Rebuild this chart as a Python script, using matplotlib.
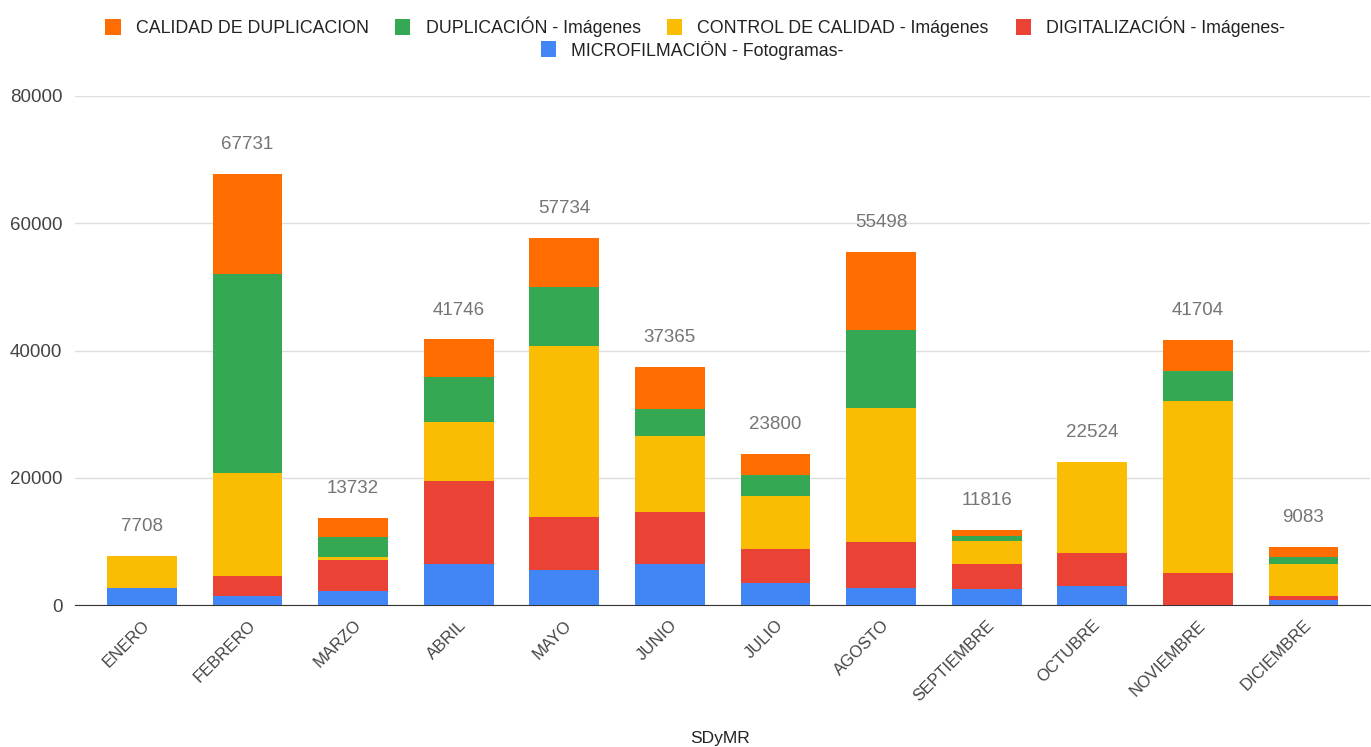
import numpy as np
import matplotlib.pyplot as plt

plt.rcParams['font.family'] = ['Liberation Sans', 'DejaVu Sans']

meses = ['ENERO', 'FEBRERO', 'MARZO', 'ABRIL', 'MAYO', 'JUNIO', 'JULIO',
         'AGOSTO', 'SEPTIEMBRE', 'OCTUBRE', 'NOVIEMBRE', 'DICIEMBRE']

microfilmacion = [2600, 1460, 2200, 6390, 5500, 6390, 3400, 2730, 2460, 2990, 0, 730]
digitalizacion = [0, 3100, 4820, 13150, 8390, 8180, 5350, 7130, 3930, 5240, 4970, 680]
control_calidad = [5108, 16140, 580, 9220, 26870, 12050, 8430, 21160, 3720, 14294, 27050, 4980]
duplicacion = [0, 31270, 3040, 7070, 9290, 4190, 3300, 12260, 740, 0, 4710, 1210]
calidad_dup = [0, 15761, 3092, 5916, 7684, 6555, 3320, 12218, 966, 0, 4974, 1483]

totales = [7708, 67731, 13732, 41746, 57734, 37365, 23800, 55498, 11816, 22524, 41704, 9083]

series = [
    ('MICROFILMACIÖN - Fotogramas-', microfilmacion, '#4285F4'),
    ('DIGITALIZACIÓN - Imágenes-', digitalizacion, '#EA4335'),
    ('CONTROL DE CALIDAD - Imágenes', control_calidad, '#FBBC04'),
    ('DUPLICACIÓN - Imágenes', duplicacion, '#34A853'),
    ('CALIDAD DE DUPLICACION', calidad_dup, '#FF6D01'),
]

fig = plt.figure(figsize=(13.71, 7.47), dpi=100)
ax = fig.add_axes([75 / 1371, 1 - 605 / 747, 1295 / 1371, 509 / 747])

x = np.arange(len(meses))
bottom = np.zeros(len(meses))
handles = {}
for nombre, vals, color in series:
    b = ax.bar(x, vals, 0.66, bottom=bottom, color=color, label=nombre, zorder=3)
    handles[nombre] = b
    bottom += np.array(vals)

# totales encima de cada barra
for xi, t in zip(x, totales):
    ax.annotate(str(t), (xi, t), xytext=(0, 15), textcoords='offset points',
                ha='center', va='bottom', fontsize=13.5, color='#757575')

ax.set_xlim(-0.634, 11.63)
ax.set_ylim(0, 80000)
ax.set_yticks([0, 20000, 40000, 60000, 80000])
ax.set_yticklabels(['0', '20000', '40000', '60000', '80000'])
ax.grid(axis='y', color='#dddddd', linewidth=1, zorder=0)
ax.set_xticks(x)
ax.set_xticklabels(meses, rotation=45, ha='right', rotation_mode='anchor')
ax.tick_params(axis='x', length=0, pad=9, labelsize=12, labelcolor='#444444')
ax.tick_params(axis='y', length=0, pad=9, labelsize=13.5, labelcolor='#444444')
for s in ['top', 'right', 'left']:
    ax.spines[s].set_visible(False)
ax.spines['bottom'].set_color('#333333')
fig.text(720 / 1371, 1 - 738 / 747, 'SDyMR', ha='center', va='center',
         fontsize=12.5, color='#222222')

fila1 = ['CALIDAD DE DUPLICACION', 'DUPLICACIÓN - Imágenes',
         'CONTROL DE CALIDAD - Imágenes', 'DIGITALIZACIÓN - Imágenes-']
fila2 = ['MICROFILMACIÖN - Fotogramas-']
kw = dict(loc='center', frameon=False, fontsize=12.8, handlelength=0.85,
          handleheight=1.0, handletextpad=0.85, columnspacing=1.5, borderpad=0)
leg1 = fig.legend([handles[n] for n in fila1], fila1, ncol=4,
                  bbox_to_anchor=(0.507, 1 - 27 / 747), **kw)
leg2 = fig.legend([handles[n] for n in fila2], fila2, ncol=1,
                  bbox_to_anchor=(0.505, 1 - 50 / 747), **kw)
for leg in (leg1, leg2):
    for txt in leg.get_texts():
        txt.set_color('#222222')

fig.savefig('out.png', dpi=100)
